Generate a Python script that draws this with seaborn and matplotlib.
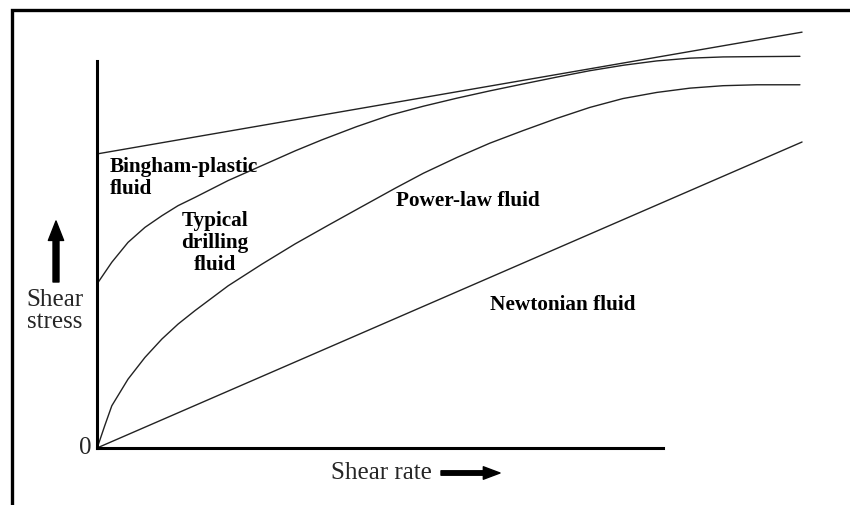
import numpy as np
import pandas as pd
import matplotlib
matplotlib.use("Agg")
import matplotlib.pyplot as plt
from matplotlib.patches import Rectangle
import seaborn as sns

# curve values (shear rate 0..10, arbitrary stress units)
newton_x = [0.0, 10.0]
newton_y = [0.0, 10.0]

bingham_x = [0.0, 10.0]
bingham_y = [9.61, 13.59]

power_x = [0.0, 0.02, 0.11, 0.21, 0.44, 0.68, 0.92, 1.15, 1.39, 1.86, 2.34,
           2.81, 3.28, 3.75, 4.23, 4.63, 5.11, 5.57, 6.04, 6.52, 6.99, 7.46,
           7.94, 8.41, 8.88, 9.36, 9.97]
power_y = [0.0, 0.12, 0.73, 1.38, 2.25, 2.96, 3.56, 4.05, 4.49, 5.30, 6.01,
           6.67, 7.28, 7.88, 8.49, 8.98, 9.50, 9.96, 10.37, 10.77, 11.13, 11.42,
           11.62, 11.76, 11.84, 11.87, 11.87]

drill_x = [0.0, 0.21, 0.44, 0.68, 0.92, 1.15, 1.39, 1.86, 2.34, 2.81, 3.19,
           3.68, 4.16, 4.63, 5.10, 5.57, 6.05, 6.52, 6.99, 7.47, 7.94, 8.41,
           8.88, 9.36, 9.97]
drill_y = [5.36, 6.07, 6.72, 7.21, 7.59, 7.92, 8.19, 8.74, 9.23, 9.71, 10.07,
           10.50, 10.88, 11.17, 11.43, 11.67, 11.90, 12.12, 12.33, 12.51, 12.65,
           12.74, 12.78, 12.79, 12.80]

frames = []
for name, xs, ys in [("Newtonian", newton_x, newton_y),
                     ("Bingham", bingham_x, bingham_y),
                     ("Power-law", power_x, power_y),
                     ("Drilling", drill_x, drill_y)]:
    frames.append(pd.DataFrame({"rate": xs, "stress": ys, "fluid": name}))
df = pd.concat(frames, ignore_index=True)

sns.set_style("white")
plt.rcParams["font.family"] = ["Liberation Serif", "DejaVu Serif"]

fig = plt.figure(figsize=(8.5, 5.06), dpi=100)
ax = fig.add_axes([97 / 850, 57 / 506, 726.2 / 850, 428.4 / 506])

sns.lineplot(data=df, x="rate", y="stress", hue="fluid", units="fluid",
             estimator=None, sort=False, legend=False,
             palette={k: "#222222" for k in df["fluid"].unique()},
             linewidth=1.0, ax=ax)

ax.set_xlim(0, 10.3)
ax.set_ylim(0, 14.0)
ax.set_xlabel("")
ax.set_ylabel("")
ax.set_xticks([])
ax.set_yticks([4.44])
ax.set_yticklabels([])
ax.tick_params(axis="y", direction="in", length=3, width=1, color="black")
for side in ["top", "right"]:
    ax.spines[side].set_visible(False)
for side in ["left", "bottom"]:
    ax.spines[side].set_linewidth(2.2)
    ax.spines[side].set_color("black")
ax.spines["left"].set_bounds(0, 12.65)
ax.spines["bottom"].set_bounds(0, 8.03)

bold = dict(fontsize=15.3, fontweight="bold", color="black", linespacing=1.12)
ax.text(0.184, 8.86, "Bingham-plastic\nfluid", ha="left", va="center", **bold)
ax.text(1.67, 6.73, "Typical\ndrilling\nfluid", ha="center", va="center",
        multialignment="center", **bold)
ax.text(4.24, 8.10, "Power-law fluid", ha="left", va="center", **bold)
ax.text(5.57, 4.71, "Newtonian fluid", ha="left", va="center", **bold)

ax.text(-0.596, 4.50, "Shear\nstress", ha="center", va="center", fontsize=18,
        linespacing=1.0, clip_on=False)
ax.text(-0.17, 0.03, "0", ha="center", va="center", fontsize=18, clip_on=False)
ax.text(3.32, -0.78, "Shear rate", ha="left", va="center", fontsize=18,
        clip_on=False)

arrow = dict(width=4.3, headwidth=11, headlength=14, facecolor="black",
             edgecolor="black", shrink=0)
ax.annotate("", xy=(56, 506 - 222), xytext=(56, 506 - 283),
            xycoords="figure pixels", textcoords="figure pixels", arrowprops=arrow)
ax.annotate("", xy=(500, 506 - 474), xytext=(441, 506 - 474),
            xycoords="figure pixels", textcoords="figure pixels",
            arrowprops=dict(arrow, width=3.2, headwidth=9, headlength=12))

# outer frame, cut off at the right and bottom like the source image
fig.add_artist(Rectangle((12 / 850, -0.2), 1.2, 0.2 + (1 - 11 / 506),
                         transform=fig.transFigure, fill=False,
                         edgecolor="black", linewidth=2.4, clip_on=False))

fig.savefig("out.png", dpi=100)
